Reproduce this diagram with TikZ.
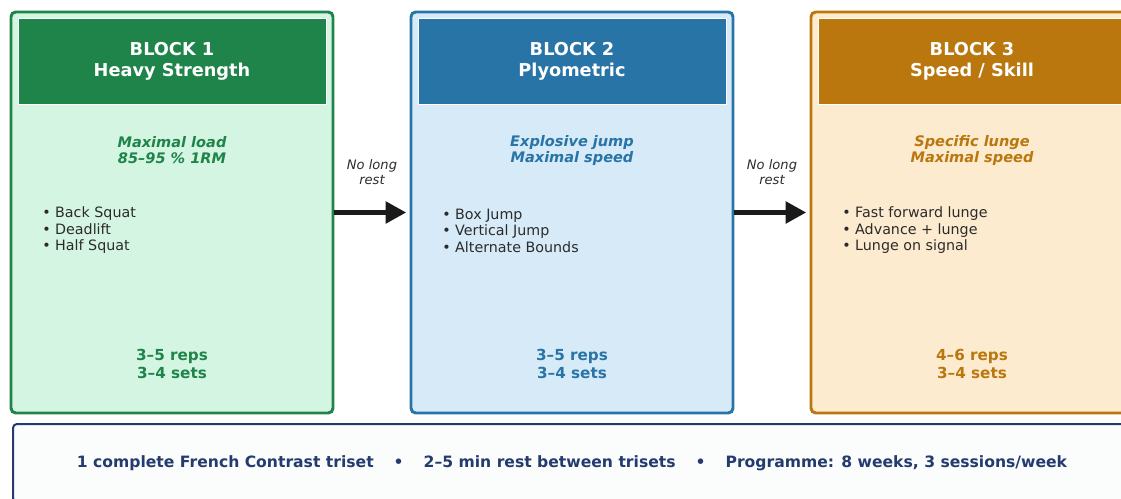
\documentclass[tikz,border=0pt]{standalone}
\usepackage{fontspec}
\setmainfont{DejaVu Sans}
\usetikzlibrary{arrows.meta}
\definecolor{StrGreen}{HTML}{1E8449}
\definecolor{StrGreenPale}{HTML}{D5F5E3}
\definecolor{PlyBlue}{HTML}{2874A6}
\definecolor{PlyBluePale}{HTML}{D6EAF8}
\definecolor{SpdAmber}{HTML}{B9770E}
\definecolor{SpdAmberPale}{HTML}{FDEBD0}
\definecolor{NoteNavy}{HTML}{233B6E}
\definecolor{NoteFill}{HTML}{FBFCFC}
\definecolor{ItemGrey}{HTML}{2B2B2B}
\definecolor{FlowBlack}{HTML}{1A1A1A}

\begin{document}
\begin{tikzpicture}[x=0.75pt, y=-0.75pt,
    blockbox/.style={rectangle, rounded corners=3.5pt, line width=2.2pt, minimum width=241.5pt, minimum height=300.75pt, inner sep=0pt},
    headbox/.style={rectangle, draw=white!60, line width=0.6pt, minimum width=231pt, minimum height=64.5pt, inner sep=0pt, text=white, font=\fontsize{13.3}{15.75}\selectfont\bfseries, align=center},
    goal/.style={font=\fontsize{10.9}{12}\selectfont\bfseries\itshape, align=center},
    items/.style={anchor=west, inner sep=0pt, text=ItemGrey, font=\fontsize{10.7}{12.4}\selectfont, align=left},
    dose/.style={font=\fontsize{11.4}{13.5}\selectfont\bfseries, align=center},
    gap/.style={font=\fontsize{9.8}{11.25}\selectfont\itshape, text=ItemGrey, align=center},
    flow/.style={-{Triangle[length=15.5pt,width=16pt]}, line width=3.6pt, FlowBlack, shorten >=2.5pt}
  ]
    \useasboundingbox (0,0) rectangle (1121,499);
    \clip (0,0) rectangle (1121,499);
    % block 1
    \node[blockbox, draw=StrGreen, fill=StrGreenPale] (blk1) at (172,212.5) {};
    \node[headbox, fill=StrGreen] (head1) at (172,61) {BLOCK 1\\Heavy Strength};
    \node[goal, text=StrGreen] (goal1) at (172,150.5) {Maximal load\\85–95 \% 1RM};
    \node[items] (list1) at (42,230.5) {• Back Squat\\• Deadlift\\• Half Squat};
    \node[dose, text=StrGreen] (dose1) at (172,364) {3–5 reps\\3–4 sets};
    % block 2
    \node[blockbox, draw=PlyBlue, fill=PlyBluePale] (blk2) at (572,212.5) {};
    \node[headbox, fill=PlyBlue] (head2) at (572,61) {BLOCK 2\\Plyometric};
    \node[goal, text=PlyBlue] (goal2) at (572,150.5) {Explosive jump\\Maximal speed};
    \node[items] (list2) at (442,230.5) {• Box Jump\\• Vertical Jump\\• Alternate Bounds};
    \node[dose, text=PlyBlue] (dose2) at (572,364) {3–5 reps\\3–4 sets};
    % block 3
    \node[blockbox, draw=SpdAmber, fill=SpdAmberPale] (blk3) at (972,212.5) {};
    \node[headbox, fill=SpdAmber] (head3) at (972,61) {BLOCK 3\\Speed / Skill};
    \node[goal, text=SpdAmber] (goal3) at (972,150.5) {Specific lunge\\Maximal speed};
    \node[items] (list3) at (842,230.5) {• Fast forward lunge\\• Advance + lunge\\• Lunge on signal};
    \node[dose, text=SpdAmber] (dose3) at (972,364) {4–6 reps\\3–4 sets};
    % transitions
    \draw[flow] (blk1) -- (blk2);
    \draw[flow] (blk2) -- (blk3);
    \node[gap] (gap1) at (372,172.5) {No long\\rest};
    \node[gap] (gap2) at (772,172.5) {No long\\rest};
    % summary
    \node[rectangle, rounded corners=3pt, draw=NoteNavy, line width=1.5pt, fill=NoteFill,
          minimum width=838.5pt, minimum height=58.5pt, text=NoteNavy,
          font=\fontsize{11.7}{14}\selectfont\bfseries] (note) at (572,463)
      {1 complete French Contrast triset\hspace*{15pt}•\hspace*{15pt}2–5 min rest between trisets\hspace*{15pt}•\hspace*{15pt}Programme: 8 weeks, 3 sessions/week};
  \end{tikzpicture}
\end{document}
